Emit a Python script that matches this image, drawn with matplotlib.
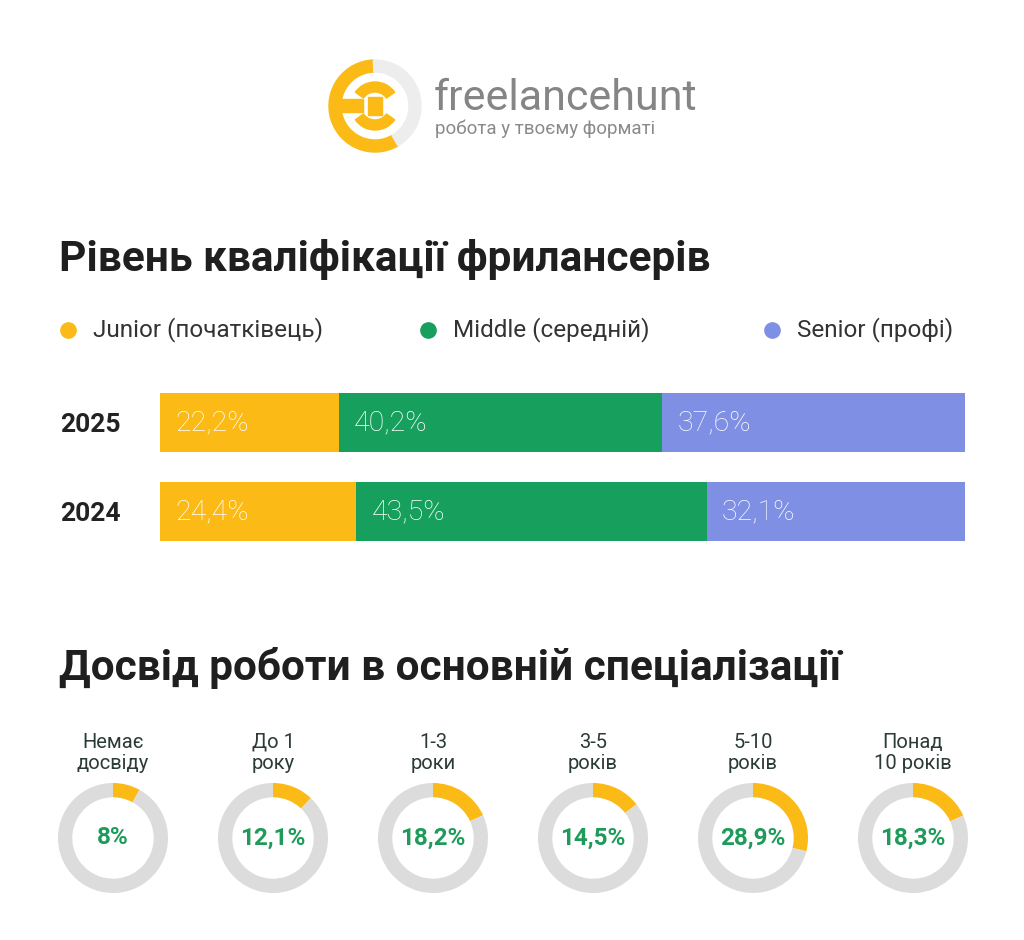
import matplotlib.pyplot as plt
from matplotlib.patches import Wedge, Rectangle

plt.rcParams['font.family'] = ['Roboto', 'DejaVu Sans']

# data
years = ['2025', '2024']
levels = ['Junior (початківець)', 'Middle (середній)', 'Senior (профі)']
junior = [22.2, 24.4]
middle = [40.2, 43.5]
senior = [37.6, 32.1]
level_colors = ['#FBBA16', '#17A05D', '#7F8FE3']

exp_labels = ['Немає\nдосвіду', 'До 1\nроку', '1-3\nроки', '3-5\nроків', '5-10\nроків', 'Понад\n10 років']
exp_values = [8, 12.1, 18.2, 14.5, 28.9, 18.3]
exp_text = ['8%', '12,1%', '18,2%', '14,5%', '28,9%', '18,3%']

W, H = 1024, 940
fig = plt.figure(figsize=(W / 100, H / 100), dpi=100)
fig.patch.set_facecolor('white')

# overlay axes in pixel coordinates for titles, logo, legend
bg = fig.add_axes([0, 0, 1, 1])
bg.set_xlim(0, W)
bg.set_ylim(H, 0)
bg.axis('off')

# logo
yel = '#FBBA16'
bg.add_patch(Wedge((375, 106), 46, 60, 268, width=12, color=yel))
bg.add_patch(Wedge((375, 106), 46, -92, 60, width=12, color='#EDEDED'))
bg.add_patch(Wedge((375, 106), 24, 35, 145, width=10, color=yel))
bg.add_patch(Wedge((375, 106), 24, 215, 325, width=10, color=yel))
bg.add_patch(Rectangle((333, 99), 30, 13, color=yel))
bg.add_patch(Rectangle((368, 97), 14, 18, color=yel))
bg.text(434, 110, 'freelancehunt', fontsize=31, color='#858585',
        ha='left', va='baseline')
bg.text(435, 134, 'робота у твоєму форматі', fontsize=13.5, color='#8a8a8a',
        ha='left', va='baseline')

# titles
bg.text(59, 271, 'Рівень кваліфікації фрилансерів', fontsize=30.5,
        fontweight='bold', color='#1f1f1f', ha='left', va='baseline')
bg.text(59, 680, 'Досвід роботи в основній спеціалізації', fontsize=30.5,
        fontweight='bold', color='#1f1f1f', ha='left', va='baseline')

# legend
leg_dot_x = [68, 428, 772]
for lx, lab, c in zip(leg_dot_x, levels, level_colors):
    bg.plot(lx, 330, 'o', ms=11, color=c)
    bg.text(lx + 25, 330, lab, fontsize=17.5, color='#333333',
            ha='left', va='center')

# stacked bars
ax = fig.add_axes([160 / W, (H - 556) / H, 805 / W, 178 / H])
pos = list(range(len(years)))
left = [0, 0]
for vals, c in zip([junior, middle, senior], level_colors):
    bars = ax.barh(pos, vals, left=left, height=0.663, color=c)
    for b, v in zip(bars, vals):
        ax.annotate(f'{v:.1f}%'.replace('.', ','), (b.get_x(), b.get_y() + b.get_height() / 2),
                    xytext=(11, 0), textcoords='offset points',
                    ha='left', va='center', color='white', fontsize=20.5,
                    fontweight='light')
    left = [l + v for l, v in zip(left, vals)]
ax.set_xlim(0, 100)
ax.set_ylim(1.5, -0.5)
ax.set_yticks(pos)
ax.set_yticklabels(years, fontsize=19, fontweight='bold', color='#222222', ha='left')
ax.tick_params(axis='y', length=0, pad=72)
ax.set_xticks([])
for s in ax.spines.values():
    s.set_visible(False)

# donuts
centers_x = [113, 273, 433, 593, 753, 913]
cy = 838
r = 55
for cx, lab, v, t in zip(centers_x, exp_labels, exp_values, exp_text):
    dax = fig.add_axes([(cx - r) / W, (H - cy - r) / H, 2 * r / W, 2 * r / H])
    dax.pie([v, 100 - v], colors=[yel, '#DCDCDC'], startangle=90,
            counterclock=False, wedgeprops=dict(width=0.26, linewidth=0))
    dax.set_xlim(-1, 1)
    dax.set_ylim(-1, 1)
    dax.text(0, 0, t, fontsize=17.5, fontweight='bold', color='#1E9B5A',
             ha='center', va='center')
    dax.text(0, 1.55, lab, fontsize=14.5, color='#2b3b36', ha='center',
             va='center', linespacing=1.12, clip_on=False)

fig.savefig('out.png', dpi=100, facecolor='white')
